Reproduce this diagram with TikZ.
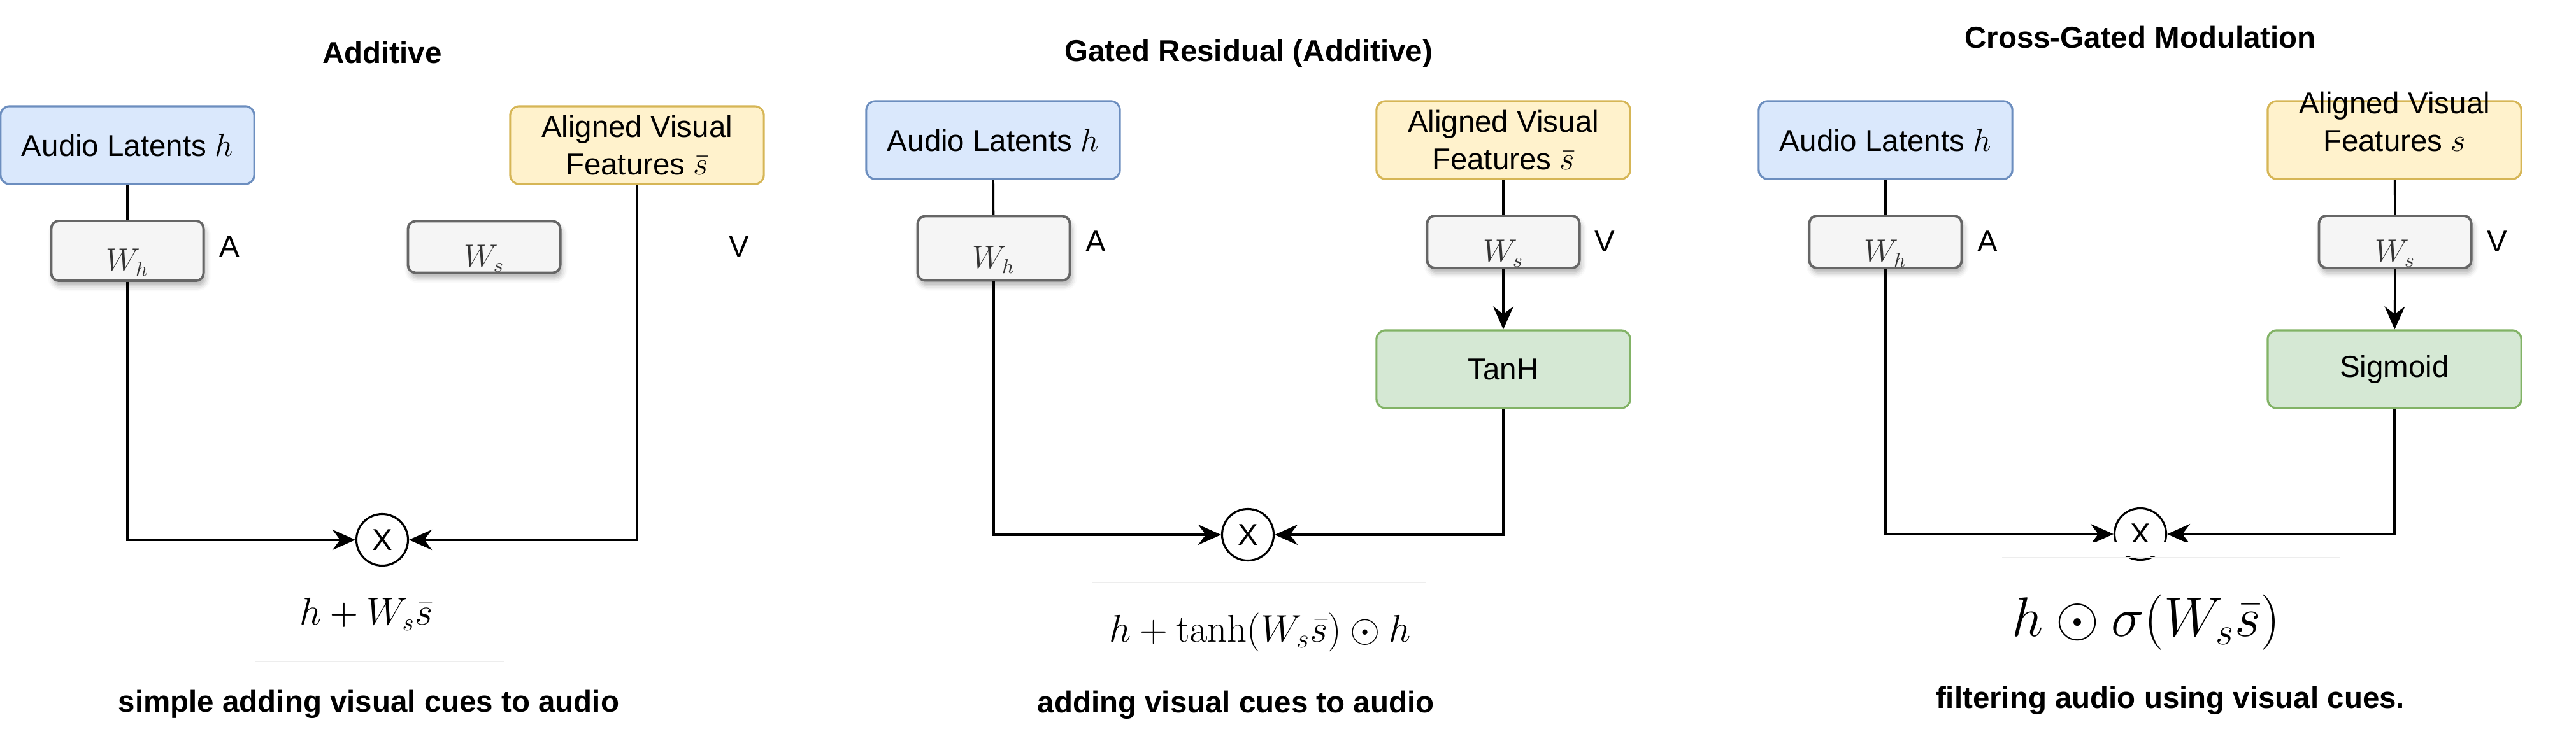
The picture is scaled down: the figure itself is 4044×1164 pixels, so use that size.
\documentclass[tikz,border=0pt]{standalone}
\usepackage[no-math]{fontspec}
\setmainfont{Liberation Sans}
\usetikzlibrary{arrows.meta, positioning, calc, shadows.blur}
\definecolor{audiofill}{HTML}{DAE8FC}
\definecolor{audioline}{HTML}{6C8EBF}
\definecolor{visfill}{HTML}{FFF2CC}
\definecolor{visline}{HTML}{D6B656}
\definecolor{gatefill}{HTML}{D5E8D4}
\definecolor{gateline}{HTML}{82B366}
\definecolor{wfill}{HTML}{F5F5F5}
\definecolor{wline}{HTML}{666666}
\definecolor{wtext}{HTML}{333333}

\begin{document}
\begin{tikzpicture}[x=0.01cm, y=-0.01cm,
    every node/.style={font=\fontsize{13.5}{17}\selectfont, inner sep=0pt},
    ttl/.style={font=\fontsize{13.5}{17}\selectfont\bfseries},
    note/.style={font=\fontsize{13.5}{17}\selectfont\bfseries},
    lab/.style={text=black},
    box/.style={rectangle, rounded corners=0.14cm, line width=0.9pt,
                minimum width=3.98cm, minimum height=1.22cm, align=center},
    audio/.style={box, draw=audioline, fill=audiofill},
    visual/.style={box, draw=visline, fill=visfill},
    gate/.style={box, draw=gateline, fill=gatefill},
    wbox/.style={rectangle, rounded corners=0.12cm, draw=wline, fill=wfill,
                 line width=1.1pt, minimum width=2.39cm, minimum height=0.82cm,
                 blur shadow={shadow xshift=0.03cm, shadow yshift=-0.08cm,
                              shadow blur radius=0.08cm, shadow opacity=30}},
    wlab/.style={text=wtext, yshift=-0.18cm},
    prod/.style={circle, draw, line width=0.9pt, minimum size=0.81cm, fill=white},
    lnk/.style={line width=0.9pt},
    arr/.style={lnk, -{Stealth[length=0.36cm, width=0.32cm, inset=0.12cm]}},
    eqn/.style={text=black},
    rule/.style={draw=black!7, line width=0.8pt},
]
\useasboundingbox (0,0) rectangle (4044,1164);

% ---------------- panel 1: additive
\node[ttl] (t1) at (600, 83) {Additive};
\node[audio] (aud1) at (200, 228) {Audio Latents $h$};
\node[visual] (vis1) at (1000, 228) {Aligned Visual\\Features $\bar{s}$};
\node[wbox, minimum height=0.94cm, label={[wlab]center:$W_h$}] (wh1) at (200, 394) {};
\node[wbox, minimum height=0.81cm, label={[wlab]center:$W_s$}] (ws1) at (760, 388) {};
\node[lab] (a1) at (360, 387) {A};
\node[lab] (v1) at (1160, 387) {V};
\node[prod] (x1) at (600, 848) {X};
\draw[lnk] (aud1) -- (wh1);
\draw[arr] (wh1) |- (x1);
\draw[arr] (vis1) |- (x1);
\draw[rule] (400, 1039) -- (792, 1039);
\node[eqn, font=\fontsize{16}{19}\selectfont, anchor=base] (e1) at (575, 981) {$h + W_s\bar{s}$};
\node[note] (n1) at (579, 1106) {simple adding visual cues to audio};

% ---------------- panel 2: gated residual
\node[ttl] (t2) at (1960, 84) {Gated Residual (Additive)};
\node[audio] (aud2) at (1559, 220) {Audio Latents $h$};
\node[visual] (vis2) at (2360, 220) {Aligned Visual\\Features $\bar{s}$};
\node[wbox, minimum height=1.01cm, label={[wlab]center:$W_h$}] (wh2) at (1560, 390) {};
\node[wbox, label={[wlab]center:$W_s$}] (ws2) at (2360, 380) {};
\node[lab] (a2) at (1720, 379) {A};
\node[lab] (v2) at (2519, 379) {V};
\node[gate] (g2) at (2360, 580) {TanH};
\node[prod] (x2) at (1959, 840) {X};
\draw[lnk] (aud2) -- (wh2);
\draw[lnk] (vis2) -- (ws2);
\draw[arr] (ws2) -- (g2);
\draw[arr] (wh2) |- (x2);
\draw[arr] (g2) |- (x2);
\draw[rule] (1714, 915) -- (2239, 915);
\node[eqn, font=\fontsize{16.5}{20}\selectfont, anchor=base] (e2) at (1978, 1008) {$h + \tanh(W_s\bar{s}) \odot h$};
\node[note] (n2) at (1940, 1107) {adding visual cues to audio};

% ---------------- panel 3: cross-gated modulation
\node[ttl] (t3) at (3360, 59) {Cross-Gated Modulation};
\node[audio] (aud3) at (2960, 220) {Audio Latents $h$};
\node[visual, label={[align=center, yshift=0.29cm]center:Aligned Visual\\Features $s$}] (vis3) at (3759, 220) {};
\node[wbox, label={[wlab]center:$W_h$}] (wh3) at (2960, 380) {};
\node[wbox, label={[wlab]center:$W_s$}] (ws3) at (3760, 380) {};
\node[lab] (a3) at (3120, 379) {A};
\node[lab] (v3) at (3920, 379) {V};
\node[gate] (g3) at (3759, 580) {Sigmoid};
\node[prod] (x3) at (3360, 839) {X};
\draw[lnk] (aud3) -- (wh3);
\draw[lnk] (vis3) -- (ws3);
\draw[arr] (ws3) -- (g3);
\draw[arr] (wh3) |- (x3);
\draw[arr] (g3) |- (x3);
\fill[white] (3140, 852) rectangle (3680, 874);
\draw[rule] (3143, 876) -- (3673, 876);
\node[eqn, font=\fontsize{23}{27}\selectfont, anchor=base] (e3) at (3369, 999) {$h \odot \sigma(W_s\bar{s})$};
\node[note] (n3) at (3407, 1100) {filtering audio using visual cues.};
\end{tikzpicture}
\end{document}
